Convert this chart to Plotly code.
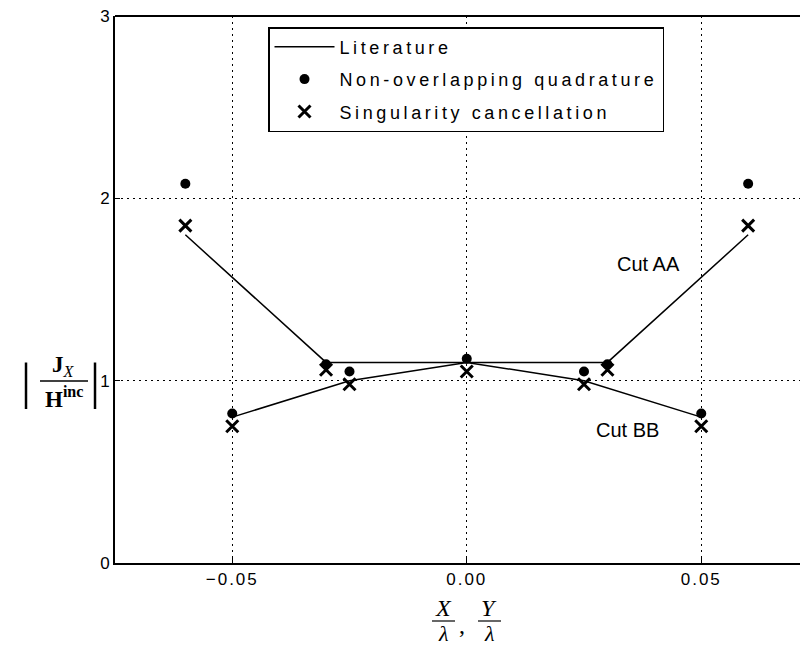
import plotly.graph_objects as go

# ---------------- data ----------------
x_cut_aa = [-0.06, -0.03, 0.03, 0.06]
literature_aa = [1.80, 1.10, 1.10, 1.80]
x_cut_bb = [-0.05, -0.025, 0.0, 0.025, 0.05]
literature_bb = [0.80, 1.00, 1.10, 1.00, 0.80]
x_points = [-0.06, -0.05, -0.03, -0.025, 0.0, 0.025, 0.03, 0.05, 0.06]
non_overlapping = [2.08, 0.82, 1.09, 1.05, 1.12, 1.05, 1.09, 0.82, 2.08]
singularity = [1.85, 0.75, 1.06, 0.98, 1.05, 0.98, 1.06, 0.75, 1.85]
x_tickvals = [-0.05, 0.0, 0.05]
x_ticktext = ["−0.05", "0.00", "0.05"]
y_tickvals = [0, 1, 2, 3]
y_ticktext = ["0", "1", "2", "3"]

# ---------------- layout helpers ----------------
OFF = 8                      # page body margin of the browser
W, H = 808 - OFF, 647 - OFF
L, R, T, B = 115 - OFF, 0, 16 - OFF, 84
PW = W - L - R
PH = H - T - B
SANS = "Liberation Sans, Arial, sans-serif"
SERIF = "Liberation Serif, Times New Roman, serif"


def px(x):
    """reference-window pixel x -> paper x"""
    return (x - OFF - L) / PW


def py(y):
    """reference-window pixel y -> paper y"""
    return (H - B - (y - OFF)) / PH


def ls(text, sp):
    return f'<span style="letter-spacing:{sp}px">{text}</span>'


def note(text, x, y, size, family=SERIF):
    return dict(text=text, x=px(x), y=py(y), xref="paper", yref="paper",
                xanchor="center", yanchor="middle", showarrow=False,
                font=dict(family=family, size=size, color="black"))


fig = go.Figure()

fig.add_trace(go.Scatter(
    x=x_cut_aa, y=literature_aa, mode="lines", name=ls("Literature", 3.6),
    line=dict(color="black", width=1.5), legendgroup="a", showlegend=True))
fig.add_trace(go.Scatter(
    x=x_cut_bb, y=literature_bb, mode="lines", name="Literature",
    line=dict(color="black", width=1.5), legendgroup="a", showlegend=False))
fig.add_trace(go.Scatter(
    x=x_points, y=non_overlapping, mode="markers",
    name=ls("Non-overlapping quadrature", 3.6),
    marker=dict(symbol="circle", size=10, color="black"), legendgroup="b"))
fig.add_trace(go.Scatter(
    x=x_points, y=singularity, mode="markers",
    name=ls("Singularity cancellation", 3.6),
    marker=dict(symbol="x-thin", size=12, color="black",
                line=dict(color="black", width=3)), legendgroup="c"))

annotations = [
    dict(text="Cut AA", x=0.0388, y=1.64, xref="x", yref="y", showarrow=False,
         xanchor="center", yanchor="middle",
         font=dict(family=SANS, size=20, color="black")),
    dict(text="Cut BB", x=0.0343, y=0.73, xref="x", yref="y", showarrow=False,
         xanchor="center", yanchor="middle",
         font=dict(family=SANS, size=20, color="black")),
    # y-axis title  | J_X / H^inc |
    note("|", 26, 381, 50),
    note("|", 95, 381, 50),
    note("<b>J</b><sub><i>X</i></sub>", 63, 366, 23),
    note("<b>H</b><sup><b>inc</b></sup>", 64, 397, 23),
    # x-axis title  X/λ , Y/λ
    note("<i>X</i>", 443, 608, 24),
    note("<i>λ</i>", 443, 633, 22),
    note(",", 462, 625, 24),
    note("<i>Y</i>", 489, 608, 24),
    note("<i>λ</i>", 489, 633, 22),
]

shapes = [
    dict(type="line", xref="paper", yref="paper", x0=0, x1=1, y0=1, y1=1,
         line=dict(color="black", width=2)),
    dict(type="line", xref="paper", yref="paper", x0=px(40), x1=px(88), y0=py(381), y1=py(381),
         line=dict(color="black", width=1.5)),
    dict(type="line", xref="paper", yref="paper", x0=px(432), x1=px(455), y0=py(621), y1=py(621),
         line=dict(color="black", width=1.2)),
    dict(type="line", xref="paper", yref="paper", x0=px(478), x1=px(501), y0=py(621), y1=py(621),
         line=dict(color="black", width=1.2)),
]

fig.update_layout(
    width=W, height=H,
    margin=dict(l=L, r=R, t=T, b=B, pad=0),
    paper_bgcolor="white", plot_bgcolor="white",
    font=dict(family=SANS, color="black"),
    annotations=annotations, shapes=shapes,
    legend=dict(x=px(268), y=py(27), xanchor="left", yanchor="top",
                bordercolor="black", borderwidth=1.5, bgcolor="white",
                font=dict(family=SANS, size=18, color="black"),
                tracegroupgap=6, itemwidth=60),
)

fig.update_xaxes(
    range=[-0.075, -0.075 + PW / 4690.0],
    tickvals=x_tickvals, ticktext=[ls(t, 2) for t in x_ticktext],
    tickfont=dict(family=SANS, size=17, color="black"),
    ticklabeloverflow="allow",
    showline=True, linecolor="black", linewidth=2, mirror=False,
    ticks="inside", ticklen=5, tickcolor="black", tickwidth=1,
    showgrid=True, gridcolor="black", gridwidth=1, griddash="2px,4px",
    zeroline=False, fixedrange=True,
)
fig.update_yaxes(
    range=[0, 3],
    tickvals=y_tickvals, ticktext=y_ticktext,
    tickfont=dict(family=SANS, size=17, color="black"),
    ticklabeloverflow="allow",
    showline=True, linecolor="black", linewidth=2, mirror=False,
    ticks="inside", ticklen=5, tickcolor="black", tickwidth=1,
    showgrid=True, gridcolor="black", gridwidth=1, griddash="2px,4px",
    zeroline=False, fixedrange=True,
)

fig.write_html("out.html")
